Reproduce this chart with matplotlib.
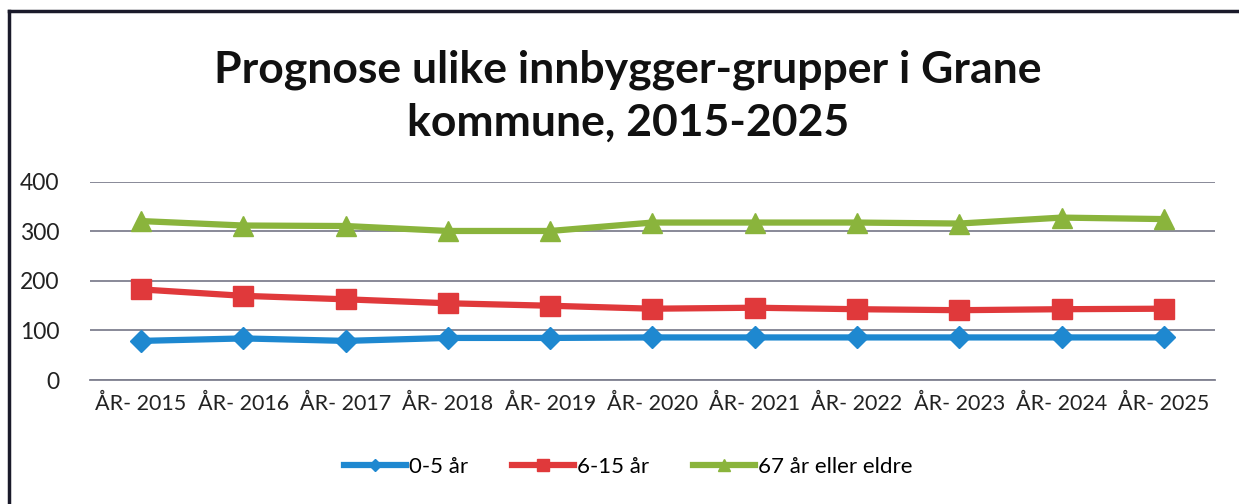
import matplotlib
matplotlib.use('Agg')
import matplotlib.pyplot as plt
from matplotlib.lines import Line2D

years = ['ÅR- 2015', 'ÅR- 2016', 'ÅR- 2017', 'ÅR- 2018', 'ÅR- 2019', 'ÅR- 2020',
         'ÅR- 2021', 'ÅR- 2022', 'ÅR- 2023', 'ÅR- 2024', 'ÅR- 2025']
age_0_5 = [79, 84, 79, 85, 85, 86, 86, 86, 86, 86, 86]
age_6_15 = [183, 170, 163, 155, 150, 144, 146, 143, 141, 143, 144]
age_67 = [321, 312, 311, 301, 301, 318, 318, 318, 316, 328, 325]

plt.rcParams['font.family'] = ['Lato', 'DejaVu Sans']

fig = plt.figure(figsize=(12.39, 5.04), dpi=100)
ax = fig.add_axes([0.0726, 0.246, 0.908, 0.393])

x = range(len(years))
ax.plot(x, age_0_5, color='#1E88D0', lw=4.5, marker='D', ms=11, label='0-5 år')
ax.plot(x, age_6_15, color='#E0393B', lw=4.5, marker='s', ms=14, label='6-15 år')
ax.plot(x, age_67, color='#8AB43C', lw=4.5, marker='^', ms=15, label='67 år eller eldre')

ax.set_xlim(-0.5, len(years) - 0.5)
ax.set_ylim(0, 400)
ax.set_yticks([0, 100, 200, 300, 400])
ax.set_xticks(list(x))
ax.set_xticklabels(years)
ax.yaxis.grid(True, color='#7f8090', lw=1.3)
ax.set_axisbelow(True)
for s in ['top', 'right', 'left']:
    ax.spines[s].set_visible(False)
ax.spines['bottom'].set_color('#7f8090')
ax.spines['bottom'].set_linewidth(1.3)
ax.tick_params(axis='both', length=0, labelsize=15.5, colors='#222222')
ax.tick_params(axis='y', labelsize=16.5, pad=22)
ax.tick_params(axis='x', pad=10)

fig.text(0.507, 0.81, 'Prognose ulike innbygger-grupper i Grane\nkommune, 2015-2025',
         ha='center', va='center', fontsize=32, fontweight='bold', linespacing=1.38,
         color='#111111')

fig.legend(loc='center', bbox_to_anchor=(0.507, 0.073), ncol=3, frameon=False,
           fontsize=16, handlelength=2.8, handletextpad=0.1, columnspacing=2.0,
           markerscale=0.6)

# chart frame (scanned, only left and top edges visible)
fig.add_artist(Line2D([0.0072, 0.0072], [0.0, 0.978], transform=fig.transFigure,
                      color='#1a1a2a', lw=2.5))
fig.add_artist(Line2D([0.0072, 1.0], [0.978, 0.978], transform=fig.transFigure,
                      color='#1a1a2a', lw=2.5))

fig.savefig('out.png', dpi=100)
